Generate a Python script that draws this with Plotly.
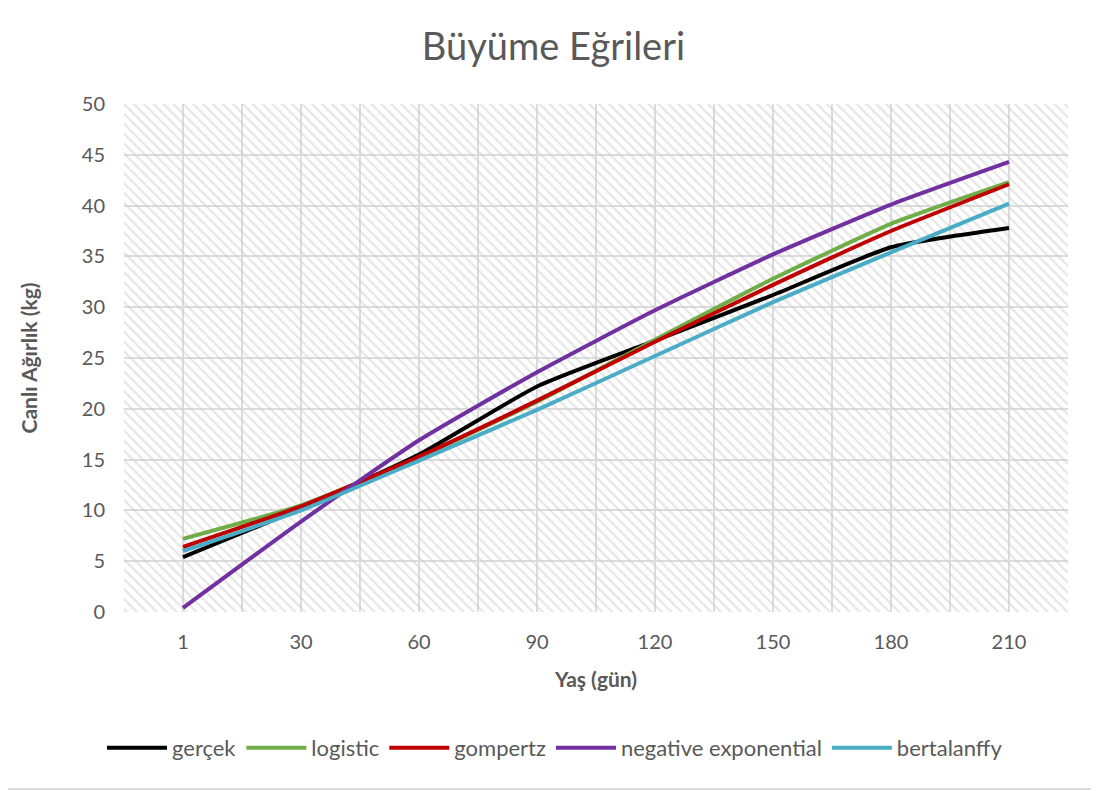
import plotly.graph_objects as go

categories = ["1", "30", "60", "90", "120", "150", "180", "210"]
gercek = [5.4, 10.2, 15.5, 22.2, 26.7, 31.2, 35.9, 37.8]
logistic = [7.2, 10.5, 15.2, 20.7, 26.8, 32.8, 38.2, 42.3]
gompertz = [6.4, 10.4, 15.3, 20.8, 26.6, 32.2, 37.5, 42.1]
neg_exp = [0.4, 8.9, 16.9, 23.6, 29.7, 35.2, 40.1, 44.3]
bertalanffy = [6.0, 10.0, 14.9, 19.9, 25.2, 30.5, 35.4, 40.2]

series = [
    ("gerçek", gercek, "#000000"),
    ("logistic", logistic, "#70AD47"),
    ("gompertz", gompertz, "#C00000"),
    ("negative exponential", neg_exp, "#7030A0"),
    ("bertalanffy", bertalanffy, "#4BACC6"),
]

y_min, y_max = 0, 50
idx = list(range(len(categories)))
x_lo, x_hi = -0.5, len(categories) - 0.5

# page body has an 8px margin
W, H = 1091, 783
ml, mr, mt, mb = 116, 31, 96, 179
pw, ph = W - ml - mr, H - mt - mb

fig = go.Figure()

# hatched plot background
fig.add_trace(go.Scatter(
    x=[x_lo, x_hi, x_hi, x_lo, x_lo], y=[y_min, y_min, y_max, y_max, y_min],
    fill="toself", mode="none", fillcolor="rgba(0,0,0,0)",
    fillpattern=dict(shape="\\", fgcolor="#cccccc", bgcolor="rgba(255,255,255,0)",
                     size=7, solidity=0.32),
    showlegend=False, hoverinfo="skip",
))

for name, vals, color in series:
    fig.add_trace(go.Scatter(
        x=idx, y=vals, name=name, mode="lines",
        line=dict(color=color, width=4, shape="spline", smoothing=0.5),
    ))

font = "Lato, Carlito, Calibri, sans-serif"
grid = "#dcdcdc"
fig.update_layout(
    width=W, height=H,
    margin=dict(l=ml, r=mr, t=mt, b=mb),
    paper_bgcolor="white", plot_bgcolor="white",
    title=dict(text="Büyüme Eğrileri", x=0.5, xanchor="center", y=1 - 39 / H, yanchor="middle",
               font=dict(family=font, size=38, color="#595959")),
    font=dict(family=font, size=20, color="#595959"),
    xaxis=dict(
        range=[x_lo, x_hi], tickvals=idx, ticktext=categories,
        showgrid=True, gridcolor=grid, gridwidth=2,
        minor=dict(tickvals=[i - 0.5 for i in range(len(categories) + 1)], showgrid=True,
                   gridcolor=grid, gridwidth=2),
        zeroline=False, showline=False, ticks="", automargin=False,
        ticklabelstandoff=16,
        tickfont=dict(size=20, color="#595959"),
        title=dict(text="<b>Yaş (gün)</b>", font=dict(size=21, color="#595959"), standoff=20),
    ),
    yaxis=dict(
        range=[y_min, y_max], dtick=5, showgrid=True, gridcolor=grid, gridwidth=2,
        zeroline=False, showline=False, ticks="", automargin=False,
        ticklabelstandoff=18,
        tickfont=dict(size=20, color="#595959"),
        title=dict(text="<b>Canlı Ağırlık (kg)</b>", font=dict(size=21, color="#595959"), standoff=38),
    ),
    legend=dict(orientation="h", x=(547 - ml) / pw, xanchor="center", y=(604 - 740) / ph,
                yanchor="middle", font=dict(size=22, color="#595959"),
                itemwidth=60, tracegroupgap=0),
    showlegend=True,
)

# outer chart border (right and bottom edges visible)
fig.add_shape(type="line", xref="paper", yref="paper",
              x0=(1084 - ml) / pw, x1=(1084 - ml) / pw,
              y0=(mt + ph - 781) / ph, y1=(mt + ph + 6) / ph,
              line=dict(color="#cfcfcf", width=1.5), layer="above")
fig.add_shape(type="line", xref="paper", yref="paper",
              x0=(-6 - ml) / pw, x1=(1084 - ml) / pw,
              y0=(mt + ph - 781) / ph, y1=(mt + ph - 781) / ph,
              line=dict(color="#cfcfcf", width=1.5), layer="above")

fig.write_html("out.html")
